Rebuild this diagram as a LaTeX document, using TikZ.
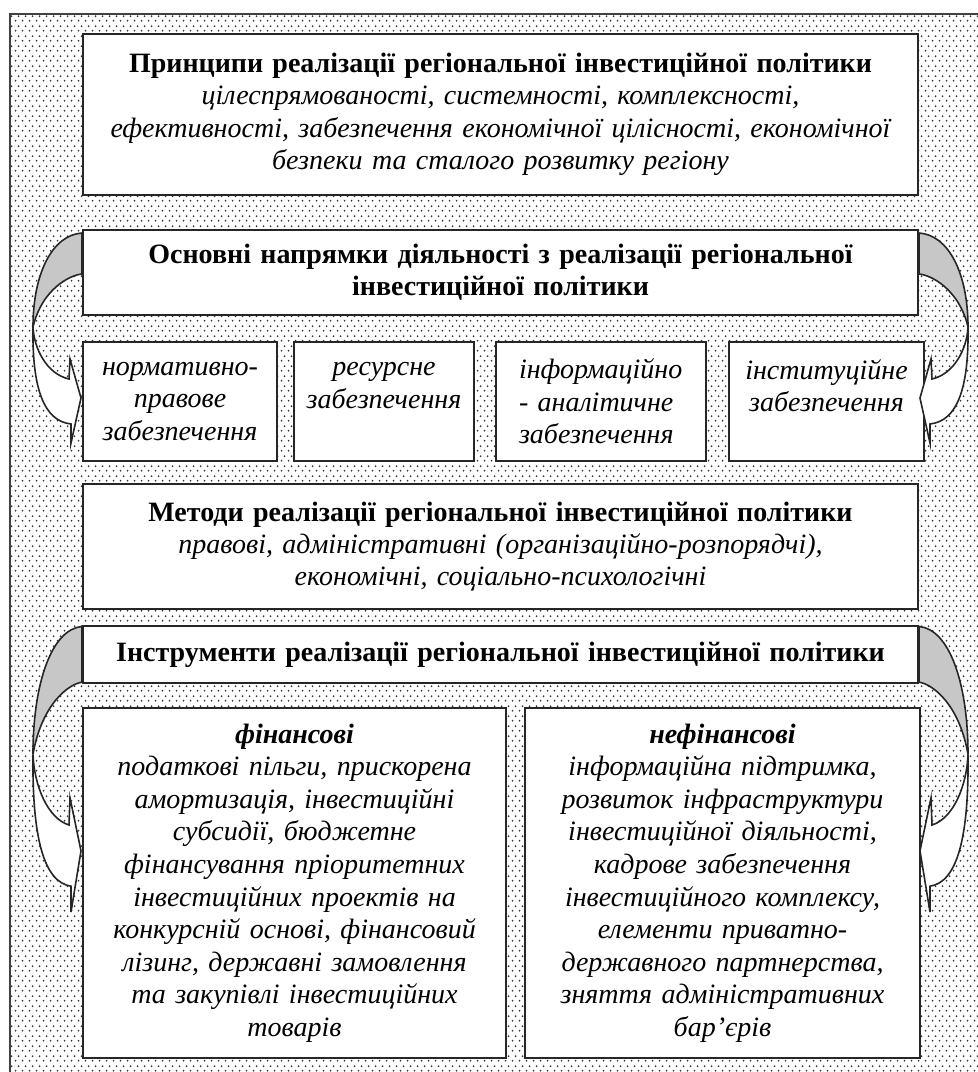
\documentclass[tikz,border=0pt]{standalone}
\usepackage{fontspec}
\setmainfont{Liberation Serif}
\usetikzlibrary{positioning}
\usetikzlibrary{calc}
\usetikzlibrary{patterns.meta}
\tikzdeclarepattern{
  name=paperdots,
  type=uncolored,
  bounding box={(0pt,0pt) and (3.5pt,5pt)},
  tile size={(3.5pt,5pt)},
  code={
    \fill (0.875pt,1.25pt) circle (0.55pt);
    \fill (2.625pt,3.75pt) circle (0.55pt);
  }
}
\tikzset{%
  bigbox/.style={draw=black!85, line width=1pt, fill=white, minimum width=417.5pt,
    text width=409.5pt, inner sep=4pt, align=center, font=\fontsize{14}{16.2}\selectfont},
  smallbox/.style={draw=black!85, line width=1pt, fill=white, minimum height=59.5pt,
    inner sep=2pt, align=center, font=\fontsize{14}{16.2}\selectfont\itshape},
  finbox/.style={draw=black!85, line width=1pt, fill=white, minimum height=175pt,
    inner sep=4pt, align=center, font=\fontsize{14}{16.3}\selectfont\itshape},
  bendline/.style={draw=black!85, line width=0.8pt}
}
% curved arrow: origin, xscale, yscale
\newcommand{\bentarrow}[3]{%
  \begin{scope}[shift={#1}, xscale=#2, yscale=#3]
    \filldraw[bendline, fill=black!22] (0,4) .. controls (-30,6) and (-49,45) .. (-49,98)
      .. controls (-40,60) and (-12,46) .. (0,45) -- cycle;
    \filldraw[bendline, fill=white] (-49,98) .. controls (-50,160) and (-38,192) .. (-11,195)
      -- (-11,214) -- (-1,169) -- (-12,130) -- (-13,150)
      .. controls (-35,145) and (-48,120) .. (-49,98) -- cycle;
  \end{scope}}

\begin{document}
\begin{tikzpicture}[x=0.5pt, y=-0.5pt]
  \useasboundingbox (0,0) rectangle (978,1072);
  \begin{scope}
    \clip (0,0) rectangle (978,1072);
    \fill[pattern=paperdots, pattern color=black!80] (10,14) rectangle (990,1090);
    \draw[line width=0.8pt, black!75] (10,1090) |- (990,14);
  \end{scope}

  \node[bigbox, minimum height=80.5pt] (prin) at (500.5,114.5)
    {\textbf{Принципи реалізації регіональної інвестиційної політики}\\
     {\itshape цілеспрямованості, системності, комплексності,\\
     ефективності, забезпечення економічної цілісності, економічної\\
     безпеки та сталого розвитку регіону}};
  \node[bigbox, minimum height=42.5pt, below=16.5pt of prin] (napr)
    {\textbf{Основні напрямки діяльності з реалізації регіональної\\
     інвестиційної політики}};

  \node[smallbox, minimum width=97pt, text width=93pt,
    below=12.5pt of napr.south west, anchor=north west] (norm)
    {нормативно-\\правове\\забезпечення};
  \node[smallbox, minimum width=90pt, text width=86pt, right=7.5pt of norm] (res)
    {ресурсне\\забезпечення\\\mbox{}};
  \node[smallbox, minimum width=105pt, text width=82pt, align=left, right=10pt of res] (info)
    {інформаційно\\- аналітичне\\забезпечення};
  \node[smallbox, minimum width=97.5pt, text width=93pt, right=10.5pt of info] (inst)
    {інституційне\\забезпечення\\\mbox{}};

  \node[bigbox, minimum height=62.5pt, below=10.5pt of norm.south west, anchor=north west] (metod)
    {\textbf{Методи реалізації регіональної інвестиційної політики}\\
     {\itshape правові, адміністративні (організаційно-розпорядчі),\\
     економічні, соціально-психологічні}};
  \node[bigbox, minimum height=28.5pt, below=7.5pt of metod] (instr)
    {\textbf{Інструменти реалізації регіональної інвестиційної політики}};

  \node[finbox, minimum width=211.5pt, text width=203.5pt,
    below=11.5pt of instr.south west, anchor=north west] (fin)
    {\textbf{фінансові}\\
     податкові пільги, прискорена\\ амортизація, інвестиційні\\ субсидії, бюджетне\\
     фінансування пріоритетних\\ інвестиційних проектів на\\ конкурсній основі, фінансовий\\
     лізинг, державні замовлення\\ та закупівлі інвестиційних\\ товарів};
  \node[finbox, minimum width=197.5pt, text width=189.5pt, right=8.5pt of fin] (nefin)
    {\textbf{нефінансові}\\
     інформаційна підтримка,\\ розвиток інфраструктури\\ інвестиційної діяльності,\\
     кадрове забезпечення\\ інвестиційного комплексу,\\ елементи приватно-\\
     державного партнерства,\\ зняття адміністративних\\ бар'єрів};

  \bentarrow{(napr.north west)}{1}{1}
  \bentarrow{(napr.north east)}{-1}{1}
  \bentarrow{($(instr.north west)+(0,-4)$)}{1}{1.36}
  \bentarrow{($(instr.north east)+(0,-4)$)}{-1}{1.36}
\end{tikzpicture}
\end{document}
